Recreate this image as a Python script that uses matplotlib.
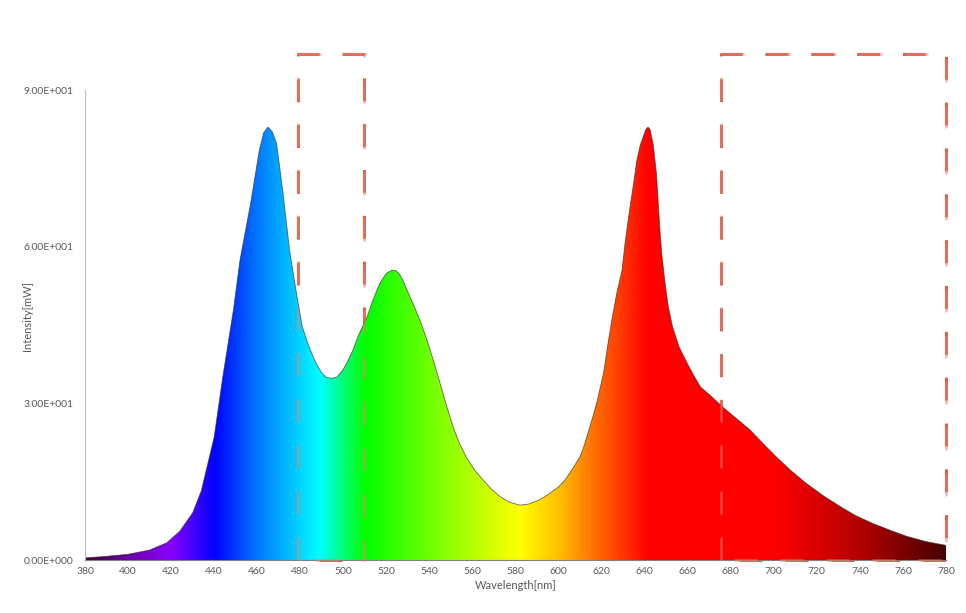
import numpy as np
import matplotlib
matplotlib.use("Agg")
import matplotlib.pyplot as plt
from matplotlib.colors import LinearSegmentedColormap
from matplotlib.patches import Polygon

plt.rcParams['font.family'] = ['Lato', 'DejaVu Sans']

# spectrum data (wavelength nm, intensity mW)
wavelength = [380, 390, 400, 410, 418, 424, 430, 434, 436.5, 440, 444, 449, 452, 457, 461,
              463, 465, 467, 469, 472, 475, 478.5, 481, 483.5, 486, 488, 490, 492, 494.5,
              497, 500, 502, 504.5, 507, 511, 514, 517, 520, 522.6, 524.5, 526, 528, 530,
              533, 536, 539, 542, 545, 548, 551, 554, 557, 561, 565, 569, 573, 577, 582,
              586, 591, 595, 600, 603, 607, 610, 612, 616, 618, 621, 623, 625, 627, 629.5,
              631, 633, 635, 636.4, 638, 640.5, 641.5, 642.5, 644, 645.5, 647, 648, 649.5,
              651, 653, 656, 660, 663, 666, 670, 676, 682, 689, 695, 701, 708, 715, 723,
              731, 738, 746, 754, 762, 771, 780]
intensity = [0.4, 0.7, 1.1, 1.9, 3.3, 5.5, 9.0, 13.2, 17.5, 23.5, 35.0, 48.0, 57.4, 68.4, 78.5,
             81.8, 82.9, 82.0, 79.8, 70.3, 59.4, 50.4, 44.6, 41.5, 38.9, 37.2, 35.8, 35.0, 34.8,
             35.0, 36.5, 38.0, 40.2, 43.0, 46.5, 50.0, 53.0, 54.9, 55.5, 55.4, 54.8, 53.3, 51.3,
             48.5, 45.5, 42.0, 38.0, 33.8, 29.5, 25.5, 22.3, 19.8, 17.2, 15.3, 13.5, 12.1, 11.1, 10.5,
             10.7, 11.5, 12.5, 14.0, 15.3, 17.8, 19.8, 22.0, 27.5, 30.5, 36.0, 41.5, 46.5, 51.0, 55.5,
             61.0, 67.0, 72.5, 76.6, 79.5, 82.4, 82.9, 82.5, 79.5, 74.0, 63.8, 58.5, 53.0,
             48.5, 44.6, 40.8, 37.5, 35.2, 33.1, 31.7, 29.4, 27.3, 24.9, 22.3, 19.8, 17.1, 14.7, 12.3,
             10.2, 8.5, 7.0, 5.7, 4.5, 3.5, 2.8]

yticks = [0, 30, 60, 90]
ytick_labels = ["0.00E+000", "3.00E+001", "6.00E+001", "9.00E+001"]
xticks = list(range(380, 781, 20))

# highlighted bands
bands = [(479, 509.6), (675.5, 780)]
band_top = 96.9

# spectral colour stops
stops_nm = [380, 400, 420, 440, 460, 489, 510, 545, 582, 600, 620, 642, 700, 740, 780]
stops_col = ["#3a0030", "#6a00a8", "#8a00ff", "#0000ff", "#0078ff", "#00ffff", "#00ff00",
             "#80ff00", "#ffff00", "#ffc000", "#ff6000", "#ff0000", "#ff0000", "#b40000", "#460000"]

fig = plt.figure(figsize=(9.66, 6.13), dpi=100)
ax = fig.add_axes([85/966, 1-560/613, (946-85)/966, (560-90)/613])
ax.set_xlim(380, 780)
ax.set_ylim(0, 90)

pos = [(v - 380) / 400 for v in stops_nm]
cmap = LinearSegmentedColormap.from_list("spec", list(zip(pos, stops_col)), N=1024)
grad = np.linspace(0, 1, 1024).reshape(1, -1)
im = ax.imshow(grad, cmap=cmap, aspect='auto', extent=(380, 780, 0, 90),
               origin='lower', zorder=1, interpolation='bilinear')
verts = [(380, 0)] + list(zip(wavelength, intensity)) + [(780, 0)]
poly = Polygon(verts, closed=True, facecolor='none', edgecolor='none', transform=ax.transData)
ax.add_patch(poly)
im.set_clip_path(poly)
ax.plot(wavelength, intensity, color='#303030', lw=0.6, alpha=0.7, zorder=2,
        solid_joinstyle='round')

for (a, b) in bands:
    xs = [a, a, b, b, a]
    ys = [0, band_top, band_top, 0, 0]
    # under the fill (full colour where the fill is absent)
    ax.plot(xs, ys, color='#d9604a', lw=2.2, linestyle=(0, (7.5, 7.5)), clip_on=False,
            zorder=0.5, dash_capstyle='butt')
    # faint over the fill
    ax.plot(xs, ys, color='#e8826e', lw=1.8, linestyle=(0, (9.2, 9.2)), clip_on=False,
            zorder=3, alpha=0.55, dash_capstyle='butt')

ax.set_yticks(yticks)
ax.set_yticklabels(ytick_labels)
ax.set_xticks(xticks)
ax.tick_params(axis='both', length=0, labelsize=7.5, colors='#595959')
ax.tick_params(axis='y', pad=8)
ax.tick_params(axis='x', pad=5)
for s in ['top', 'right']:
    ax.spines[s].set_visible(False)
ax.spines['left'].set_color('#bfbfbf')
ax.spines['bottom'].set_color('#808080')
ax.spines['left'].set_linewidth(0.8)
ax.spines['bottom'].set_linewidth(0.8)
ax.set_xlabel("Wavelength[nm]", fontsize=8, color='#595959', labelpad=3)
ax.set_ylabel("Intensity[mW]", fontsize=8, color='#595959')
ax.yaxis.set_label_coords(-0.06, 0.52)

fig.savefig("out.png", dpi=100)
